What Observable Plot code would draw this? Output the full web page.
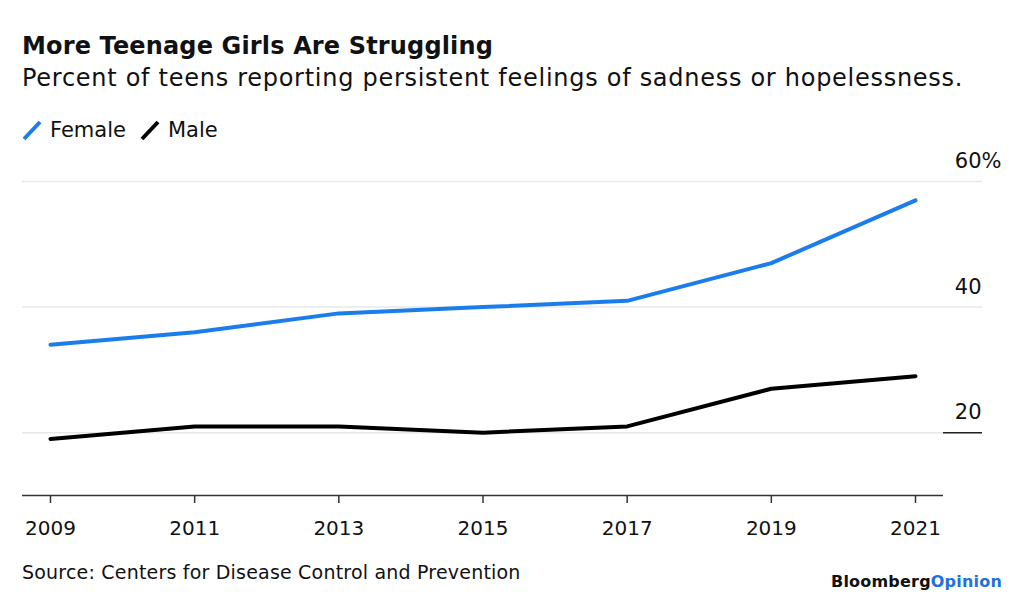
<!DOCTYPE html>
<html>
<head>
<meta charset="utf-8">
<script src="https://cdn.jsdelivr.net/npm/d3@7"></script>
<script src="https://cdn.jsdelivr.net/npm/@observablehq/plot@0.6"></script>
<style>
  html, body { margin: 0; padding: 0; background: #fff; }
  body { width: 1024px; height: 604px; position: relative; overflow: hidden; font-family: "DejaVu Sans", sans-serif; color: #111; }
  .abs { position: absolute; white-space: nowrap; line-height: 1; }
  #title { left: 22px; top: 34px; font-size: 24px; font-weight: bold; letter-spacing: 0.15px; }
  #subtitle { left: 22px; top: 66px; font-size: 24px; letter-spacing: 0.72px; }
  #legend { left: 22px; top: 119px; font-size: 21px; display: flex; align-items: center; }
  #legend .item { display: flex; align-items: center; margin-right: 14px; }
  #legend svg { margin-right: 8px; }
  #source { left: 22px; top: 563px; font-size: 19px; letter-spacing: 0.2px; }
  #logo { left: 831px; top: 574px; font-size: 16px; font-weight: bold; letter-spacing: 0.2px; }
  #logo span { color: #1f70e0; }
  #chart { position: absolute; left: 0; top: 145px; }
</style>
</head>
<body>
<div id="title" class="abs">More Teenage Girls Are Struggling</div>
<div id="subtitle" class="abs">Percent of teens reporting persistent feelings of sadness or hopelessness.</div>
<div id="legend" class="abs"></div>
<div id="chart"></div>
<div id="source" class="abs">Source: Centers for Disease Control and Prevention</div>
<div id="logo" class="abs">Bloomberg<span>Opinion</span></div>
<script>
const years = [2009, 2011, 2013, 2015, 2017, 2019, 2021];
const female = [34, 36, 39, 40, 41, 47, 57];
const male = [19, 21, 21, 20, 21, 27, 29];
const seriesNames = ["Female", "Male"];
const seriesColors = ["#1b7cec", "#000000"];
const yTicks = [20, 40, 60];
const xTicks = [2009, 2011, 2013, 2015, 2017, 2019, 2021];

const data = [
  ...years.map((y, i) => ({year: y, value: female[i], series: "Female"})),
  ...years.map((y, i) => ({year: y, value: male[i], series: "Male"}))
];

// legend
const legend = document.getElementById("legend");
seriesNames.forEach((name, i) => {
  const item = document.createElement("div");
  item.className = "item";
  item.innerHTML = `<svg width="20" height="22"><line x1="2" y1="20" x2="18" y2="3" stroke="${seriesColors[i]}" stroke-width="4"/></svg><span>${name}</span>`;
  legend.appendChild(item);
});

const xMin = 2008.6116, xMax = 2021.9295, axisEnd = 2021.388;

const plot = Plot.plot({
  width: 1024,
  height: 400,
  marginLeft: 22,
  marginRight: 42,
  marginTop: 36,
  marginBottom: 50,
  style: {fontFamily: "DejaVu Sans, sans-serif", color: "#111", background: "transparent", overflow: "visible"},
  x: {domain: [xMin, xMax], axis: null},
  y: {domain: [10, 60], axis: null},
  color: {domain: seriesNames, range: seriesColors},
  marks: [
    Plot.ruleY(yTicks, {x1: xMin, x2: xMax, stroke: "#e8e8e8", strokeWidth: 1.5}),
    Plot.ruleY([20], {x1: axisEnd, x2: xMax, stroke: "#222", strokeWidth: 1.5}),
    Plot.ruleY([10], {x1: xMin, x2: axisEnd, stroke: "#333", strokeWidth: 1.5}),
    Plot.axisX(xTicks, {label: null, tickSize: 8, tickPadding: 17, fontSize: 20, tickFormat: d => String(d), stroke: "#333", strokeWidth: 1.5}),
    Plot.text(yTicks, {x: xMax, y: d => d, text: d => String(d), textAnchor: "end", dx: -1, dy: -20, fontSize: 21, fill: "#111"}),
    Plot.text([60], {x: xMax, y: d => d, text: () => "%", textAnchor: "start", dx: -1, dy: -20, fontSize: 21, fill: "#111"}),
    Plot.line(data, {x: "year", y: "value", z: "series", stroke: "series", strokeWidth: 4, strokeLinejoin: "round", strokeLinecap: "round"})
  ]
});
document.getElementById("chart").appendChild(plot);
</script>
</body>
</html>
